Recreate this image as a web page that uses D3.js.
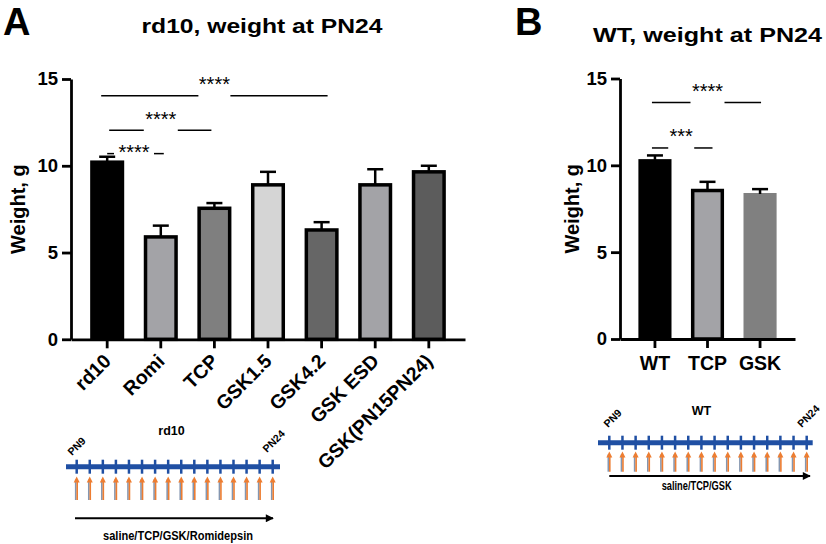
<!DOCTYPE html>
<html><head><meta charset="utf-8">
<script src="https://cdn.jsdelivr.net/npm/d3@7/dist/d3.min.js"></script>
<style>
body{margin:0;background:#fff;}
svg{display:block;font-family:"Liberation Sans",Arial,sans-serif;}
</style></head>
<body><svg id="c" width="826" height="544"></svg>
<script>
// ---------- data ----------
const catsA = ["rd10","Romi","TCP","GSK1.5","GSK4.2","GSK ESD","GSK(PN15PN24)"];
const meansA = [10.25, 5.9, 7.55, 8.9, 6.3, 8.9, 9.65];
const errA   = [0.27, 0.65, 0.3, 0.75, 0.45, 0.9, 0.35];
const catsB = ["WT","TCP","GSK"];
const meansB = [10.3, 8.55, 8.35];
const errB   = [0.27, 0.5, 0.28];
const yTicks = [0, 5, 10, 15];
const compsA = [
  {a:"rd10", b:"GSK4.2", label:"****", level:14.04},
  {a:"rd10", b:"TCP",    label:"****", level:12.05},
  {a:"rd10", b:"Romi",   label:"****", level:10.7}
];
const compsB = [
  {a:"WT", b:"GSK", label:"****", level:13.62},
  {a:"WT", b:"TCP", label:"***",  level:11.0}
];
const days = [9,10,11,12,13,14,15,16,17,18,19,20,21,22,23,24];

// ---------- styles ----------
const colorsA = ["#000000","#a3a3a7","#7f7f7f","#d5d5d5","#666666","#a3a3a7","#5c5c5c"];
const outlineA = [false,true,true,true,true,true,true];
const colorsB = ["#000000","#a3a3a7","#808080"];
const outlineB = [false,true,false];
// per-comparison drawing tweaks: [line extension left, right, text dy, gap half width]
const compStyleA = [[6,6,-4.5,16],[-2,-3,-4.5,17],[0,3,5,20]];
const compStyleB = [[3,1,-4.5,17],[3,5,-4.5,13]];

const svg = d3.select("#c");
svg.append("rect").attr("width",826).attr("height",544).attr("fill","#fff");

function panel(opt){
  const g = svg.append("g");
  const y = d3.scaleLinear().domain([0,15]).range([opt.y0, opt.y15]);
  const x = d3.scaleBand().domain(opt.cats).range([opt.xl, opt.xr])
              .paddingInner(opt.pi).paddingOuter(opt.po);
  const bw = x.bandwidth();
  const sw = 3.5;
  opt.cats.forEach((c,i)=>{
    const v = opt.means[i];
    if(opt.outline[i]){
      g.append("rect").attr("x",x(c)+sw/2).attr("y",y(v))
        .attr("width",bw-sw).attr("height",y(0)-y(v))
        .attr("fill",opt.colors[i]).attr("stroke","#000").attr("stroke-width",sw);
    } else {
      g.append("rect").attr("x",x(c)).attr("y",y(v)-1)
        .attr("width",bw).attr("height",y(0)-y(v)+1)
        .attr("fill",opt.colors[i]);
    }
    const cx = x(c)+bw/2, top = y(v+opt.err[i]);
    g.append("line").attr("x1",cx).attr("x2",cx).attr("y1",y(v)).attr("y2",top)
      .attr("stroke","#000").attr("stroke-width",2.5);
    g.append("line").attr("x1",cx-8).attr("x2",cx+8).attr("y1",top).attr("y2",top)
      .attr("stroke","#000").attr("stroke-width",2.5);
  });
  const ya = g.append("g").attr("transform",`translate(${opt.xl},0)`)
    .call(d3.axisLeft(y).tickValues(yTicks).tickSize(9).tickSizeOuter(0).tickPadding(4));
  const xa = g.append("g").attr("transform",`translate(0,${opt.y0})`)
    .call(d3.axisBottom(x).tickSize(9).tickSizeOuter(0).tickPadding(4));
  [ya,xa].forEach(a=>{
    a.select(".domain").attr("stroke","#000").attr("stroke-width",2.8);
    a.selectAll(".tick line").attr("stroke","#000").attr("stroke-width",2.8);
    a.selectAll("text").attr("fill","#000").style("font-weight","bold");
  });
  ya.selectAll("text").style("font-size","18.5px");
  if(opt.rotate){
    xa.selectAll("text").style("font-size","19.5px").attr("text-anchor","end")
      .attr("x",0).attr("y",0).attr("dy",null)
      .attr("transform","translate(5,23) rotate(-45)");
  } else {
    xa.selectAll("text").style("font-size","19.5px").attr("dy",null).attr("y",31);
  }
  g.append("text").attr("transform",`translate(${opt.ylabX},${(opt.y0+opt.y15)/2}) rotate(-90)`)
    .attr("text-anchor","middle").attr("dy","0.35em")
    .style("font-size","20px").style("font-weight","bold").text("Weight, g");
  opt.comps.forEach((cp,k)=>{
    const st = opt.compStyle[k];
    const xa1 = x(cp.a)+bw/2 - st[0], xb = x(cp.b)+bw/2 + st[1];
    const mid = (x(cp.a)+x(cp.b))/2+bw/2, ly = y(cp.level);
    g.append("text").attr("x",mid).attr("y",ly+st[2])
      .attr("text-anchor","middle").style("font-size","20px").text(cp.label);
    const hw = st[3];
    g.append("line").attr("x1",xa1).attr("x2",mid-hw).attr("y1",ly).attr("y2",ly)
      .attr("stroke","#000").attr("stroke-width",1.5);
    g.append("line").attr("x1",mid+hw).attr("x2",xb).attr("y1",ly).attr("y2",ly)
      .attr("stroke","#000").attr("stroke-width",1.5);
  });
  return {x,y};
}

panel({cats:catsA, means:meansA, err:errA, colors:colorsA, outline:outlineA,
  xl:71, xr:465, y0:339.3, y15:79, pi:0.365, po:0.3575, rotate:true, ylabX:18,
  comps:compsA, compStyle:compStyleA});
panel({cats:catsB, means:meansB, err:errB, colors:colorsB, outline:outlineB,
  xl:620, xr:795, y0:339, y15:78.5, pi:0.37, po:0.35, rotate:false, ylabX:572,
  comps:compsB, compStyle:compStyleB});

svg.append("text").attr("x",262).attr("y",33).attr("text-anchor","middle")
  .attr("textLength",241).attr("lengthAdjust","spacingAndGlyphs")
  .style("font-size","20px").style("font-weight","bold").text("rd10, weight at PN24");
svg.append("text").attr("x",707.5).attr("y",42).attr("text-anchor","middle")
  .attr("textLength",229).attr("lengthAdjust","spacingAndGlyphs")
  .style("font-size","21px").style("font-weight","bold").text("WT, weight at PN24");
svg.append("text").attr("x",3).attr("y",35).style("font-size","38px").style("font-weight","bold").text("A");
svg.append("text").attr("x",515).attr("y",35).style("font-size","38px").style("font-weight","bold").text("B");

const defs = svg.append("defs");
defs.append("marker").attr("id","bh").attr("viewBox","0 0 10 10").attr("refX",9).attr("refY",5)
  .attr("markerWidth",4.5).attr("markerHeight",4).attr("orient","auto")
  .append("path").attr("d","M0,0L10,5L0,10z").attr("fill","#000");

function timeline(o){
  const g = svg.append("g");
  const t = d3.scaleLinear().domain([days[0], days[days.length-1]]).range([o.t0,o.t1]);
  g.append("line").attr("x1",o.l0).attr("x2",o.l1).attr("y1",o.ly).attr("y2",o.ly)
    .attr("stroke","#1f4fa3").attr("stroke-width",5);
  days.forEach(d=>{
    const xx = t(d);
    g.append("line").attr("x1",xx).attr("x2",xx).attr("y1",o.ly-7).attr("y2",o.ly+7)
      .attr("stroke","#1f4fa3").attr("stroke-width",2.5);
    g.append("line").attr("x1",xx-1).attr("x2",xx-1).attr("y1",o.a1).attr("y2",o.a0+3)
      .attr("stroke","#8496b0").attr("stroke-width",1.6);
    g.append("line").attr("x1",xx+0.5).attr("x2",xx+0.5).attr("y1",o.a1).attr("y2",o.a0+4)
      .attr("stroke","#ed7d31").attr("stroke-width",1.6);
    g.append("path").attr("d",`M${xx-3},${o.a0+6}L${xx},${o.a0}L${xx+3},${o.a0+6}z`)
      .attr("fill","#ed7d31");
  });
  g.append("line").attr("x1",o.b0).attr("x2",o.b1).attr("y1",o.by).attr("y2",o.by)
    .attr("stroke","#000").attr("stroke-width",2).attr("marker-end","url(#bh)");
  g.append("text").attr("x",o.tx).attr("y",o.ty).attr("text-anchor","middle")
    .style("font-size","12.5px").style("font-weight","bold").text(o.title);
  g.append("text").attr("x",(o.b0+o.b1)/2+o.lxoff).attr("y",o.lby).attr("text-anchor","middle")
    .attr("textLength",o.lw).attr("lengthAdjust","spacingAndGlyphs")
    .style("font-size","12.5px").style("font-weight","bold").text(o.label);
  g.append("text").attr("transform",`translate(${o.p9[0]},${o.p9[1]}) rotate(-45)`)
    .style("font-size","10.5px").style("font-weight","bold").text("PN" + days[0]);
  g.append("text").attr("transform",`translate(${o.p24[0]},${o.p24[1]}) rotate(-45)`)
    .style("font-size","10.5px").style("font-weight","bold").text("PN" + days[days.length-1]);
}
timeline({t0:76.7, t1:272.7, l0:66, l1:280, ly:466.7, a0:476.5, a1:500,
  b0:75, b1:273, by:518.3, tx:171.5, ty:435, title:"rd10",
  label:"saline/TCP/GSK/Romidepsin", lxoff:4, lby:540, lw:150,
  p9:[72,456], p24:[267,453]});
timeline({t0:609.3, t1:806.7, l0:598, l1:812.7, ly:442.7, a0:451.5, a1:471.7,
  b0:609.3, b1:810, by:476, tx:701.5, ty:415, title:"WT",
  label:"saline/TCP/GSK", lxoff:-13, lby:490, lw:70,
  p9:[608,428], p24:[801.7,428]});
</script></body></html>
